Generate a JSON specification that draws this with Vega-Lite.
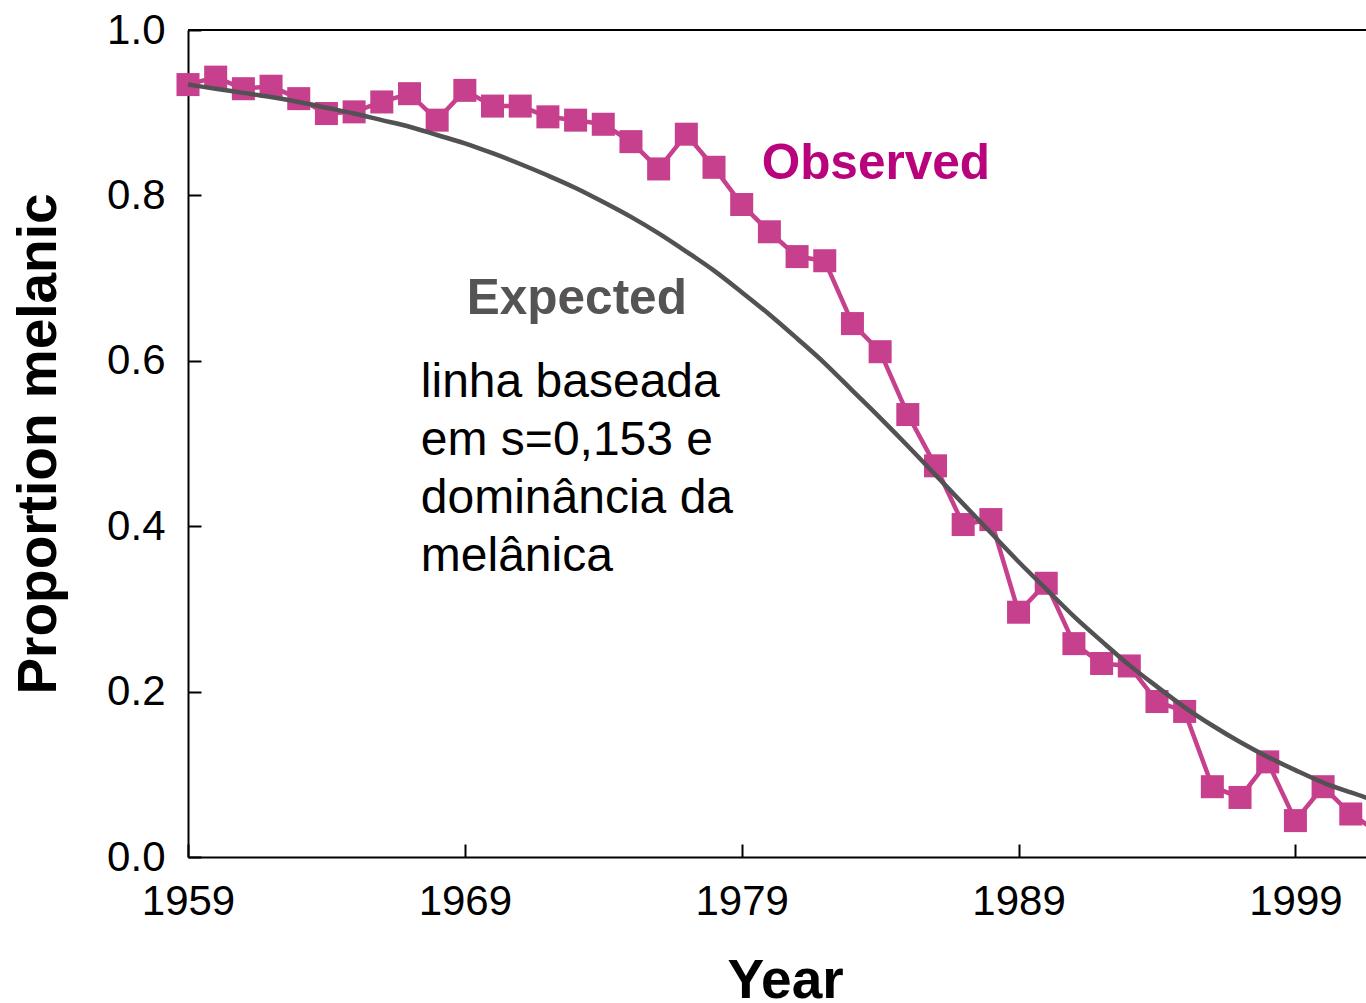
{
  "$schema": "https://vega.github.io/schema/vega-lite/v6.json",
  "width": 1178,
  "height": 827,
  "autosize": {"type": "none"},
  "padding": {"left": 188, "top": 30, "right": 0, "bottom": 146},
  "background": "white",
  "config": {
    "view": {"stroke": null},
    "font": "Liberation Sans",
    "axis": {
      "grid": false,
      "domainColor": "black",
      "domainWidth": 2,
      "tickColor": "black",
      "tickWidth": 2,
      "tickSize": -13,
      "labelFont": "Liberation Sans",
      "labelFontSize": 42,
      "labelColor": "black",
      "labelFlush": false,
      "titleFont": "Liberation Sans",
      "titleFontWeight": "bold",
      "titleFontSize": 55,
      "titleColor": "black"
    }
  },
  "datasets": {
    "obs": [
      {"year": 1959, "p": 0.934}, {"year": 1960, "p": 0.943}, {"year": 1961, "p": 0.929},
      {"year": 1962, "p": 0.932}, {"year": 1963, "p": 0.917}, {"year": 1964, "p": 0.899},
      {"year": 1965, "p": 0.901}, {"year": 1966, "p": 0.913}, {"year": 1967, "p": 0.923},
      {"year": 1968, "p": 0.891}, {"year": 1969, "p": 0.927}, {"year": 1970, "p": 0.908},
      {"year": 1971, "p": 0.908}, {"year": 1972, "p": 0.895}, {"year": 1973, "p": 0.891},
      {"year": 1974, "p": 0.886}, {"year": 1975, "p": 0.865}, {"year": 1976, "p": 0.832},
      {"year": 1977, "p": 0.874}, {"year": 1978, "p": 0.834}, {"year": 1979, "p": 0.789},
      {"year": 1980, "p": 0.756}, {"year": 1981, "p": 0.726}, {"year": 1982, "p": 0.721},
      {"year": 1983, "p": 0.645}, {"year": 1984, "p": 0.611}, {"year": 1985, "p": 0.535},
      {"year": 1986, "p": 0.473}, {"year": 1987, "p": 0.402}, {"year": 1988, "p": 0.408},
      {"year": 1989, "p": 0.296}, {"year": 1990, "p": 0.331}, {"year": 1991, "p": 0.258},
      {"year": 1992, "p": 0.234}, {"year": 1993, "p": 0.231}, {"year": 1994, "p": 0.188},
      {"year": 1995, "p": 0.176}, {"year": 1996, "p": 0.085}, {"year": 1997, "p": 0.072},
      {"year": 1998, "p": 0.115}, {"year": 1999, "p": 0.044}, {"year": 2000, "p": 0.085},
      {"year": 2001, "p": 0.052}, {"year": 2002, "p": 0.03}
    ],
    "exp": [
      {"year": 1959, "p": 0.934}, {"year": 1960, "p": 0.929}, {"year": 1961, "p": 0.924},
      {"year": 1962, "p": 0.919}, {"year": 1963, "p": 0.913}, {"year": 1964, "p": 0.906},
      {"year": 1965, "p": 0.899}, {"year": 1966, "p": 0.891}, {"year": 1967, "p": 0.883},
      {"year": 1968, "p": 0.873}, {"year": 1969, "p": 0.863}, {"year": 1970, "p": 0.851},
      {"year": 1971, "p": 0.838}, {"year": 1972, "p": 0.824}, {"year": 1973, "p": 0.809},
      {"year": 1974, "p": 0.792}, {"year": 1975, "p": 0.774}, {"year": 1976, "p": 0.754},
      {"year": 1977, "p": 0.732}, {"year": 1978, "p": 0.709}, {"year": 1979, "p": 0.683},
      {"year": 1980, "p": 0.656}, {"year": 1981, "p": 0.627}, {"year": 1982, "p": 0.597},
      {"year": 1983, "p": 0.564}, {"year": 1984, "p": 0.531}, {"year": 1985, "p": 0.497},
      {"year": 1986, "p": 0.462}, {"year": 1987, "p": 0.427}, {"year": 1988, "p": 0.392},
      {"year": 1989, "p": 0.357}, {"year": 1990, "p": 0.324}, {"year": 1991, "p": 0.291},
      {"year": 1992, "p": 0.261}, {"year": 1993, "p": 0.232}, {"year": 1994, "p": 0.206},
      {"year": 1995, "p": 0.181}, {"year": 1996, "p": 0.159}, {"year": 1997, "p": 0.139},
      {"year": 1998, "p": 0.121}, {"year": 1999, "p": 0.105}, {"year": 2000, "p": 0.090},
      {"year": 2001, "p": 0.078}, {"year": 2002, "p": 0.067}
    ],
    "labels": [
      {"year": 1979.72, "p": 0.82, "label": "Observed", "kind": "obs"},
      {"year": 1969.07, "p": 0.657, "label": "Expected", "kind": "exp"}
    ],
    "note": [
      {"year": 1967.41, "p": 0.556, "label": "linha baseada\nem s=0,153 e\ndominância da\nmelânica"}
    ]
  },
  "encoding": {
    "x": {
      "field": "year", "type": "quantitative",
      "scale": {"domain": [1959, 2001.55], "nice": false, "zero": false},
      "axis": {
        "values": [1959, 1969, 1979, 1989, 1999],
        "format": "d",
        "title": "Year",
        "labelPadding": 37,
        "labelBaseline": "top",
        "titleX": 597,
        "titleY": 140,
        "titleBaseline": "alphabetic",
        "titleAnchor": "middle"
      }
    },
    "y": {
      "field": "p", "type": "quantitative",
      "scale": {"domain": [0, 1], "nice": false},
      "axis": {
        "values": [0, 0.2, 0.4, 0.6, 0.8, 1.0],
        "format": ".1f",
        "title": "Proportion melanic",
        "labelPadding": 36,
        "titleX": -133,
        "titleBaseline": "alphabetic",
        "titleAngle": -90
      }
    }
  },
  "layer": [
    {
      "data": {"name": "obs"},
      "mark": {"type": "rule", "color": "black", "strokeWidth": 2},
      "encoding": {"x": null, "y": {"datum": 1}}
    },
    {
      "data": {"name": "obs"},
      "mark": {
        "type": "line", "color": "#C7408D", "strokeWidth": 4.5,
        "point": {"shape": "square", "size": 530, "filled": true, "color": "#C7408D", "opacity": 1}
      }
    },
    {
      "data": {"name": "exp"},
      "mark": {"type": "line", "color": "#535153", "strokeWidth": 4.5, "interpolate": "monotone"}
    },
    {
      "data": {"name": "labels"},
      "mark": {"type": "text", "align": "left", "baseline": "alphabetic", "fontSize": 49.5, "fontWeight": "bold", "font": "Liberation Sans"},
      "encoding": {
        "text": {"field": "label"},
        "color": {"field": "kind", "type": "nominal", "scale": {"domain": ["obs", "exp"], "range": ["#B8037D", "#555354"]}, "legend": null}
      }
    },
    {
      "data": {"name": "note"},
      "mark": {"type": "text", "align": "left", "baseline": "alphabetic", "fontSize": 48, "font": "Liberation Sans", "color": "black", "lineBreak": "\n", "lineHeight": 58},
      "encoding": {"text": {"field": "label"}}
    }
  ]
}
